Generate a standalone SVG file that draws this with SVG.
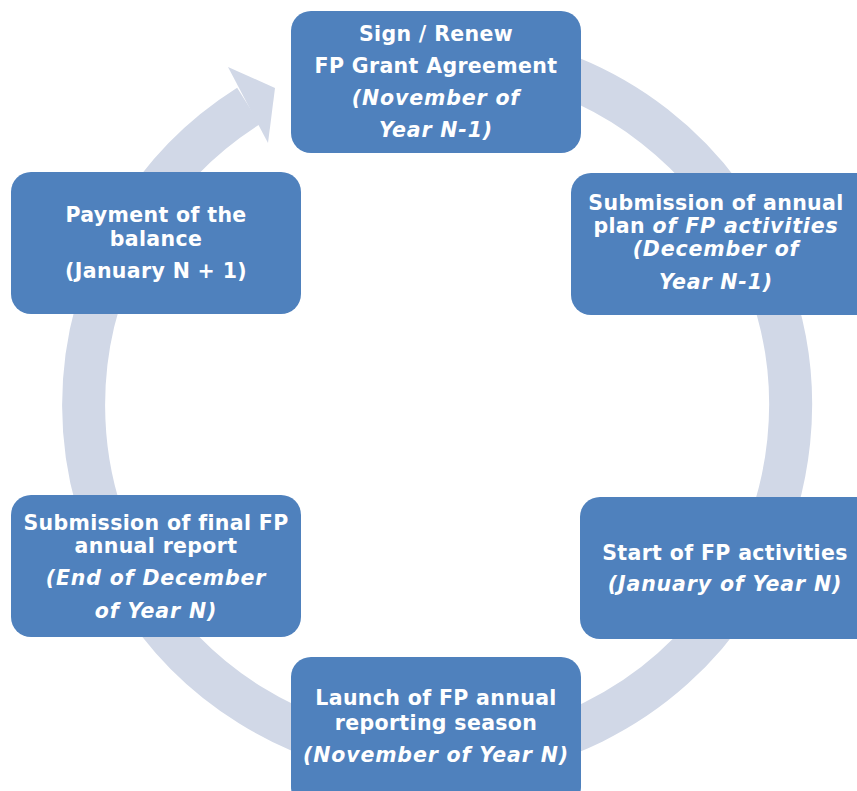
<svg xmlns="http://www.w3.org/2000/svg" width="857" height="791" viewBox="0 0 857 791">
<style>
.ring{fill:none;stroke:#d1d8e7;stroke-width:43}
.head{fill:#d1d8e7}
.box{fill:#4f81bd}
text{font-family:"DejaVu Sans","Verdana",sans-serif;font-weight:bold;font-size:20.5px;letter-spacing:0.35px;fill:#ffffff;text-anchor:middle}
.i{font-style:italic;letter-spacing:0.85px}
</style>
<rect width="857" height="791" fill="#ffffff"/>
<g id="connectors">
<path class="ring" d="M316.1,72.8 A353.5,353.5 0 1 1 248.6,105.9"/>
<polygon class="head" points="228,67 275,88 268,143"/>
</g>
<g id="n1">
<rect class="box" x="291" y="11" width="290" height="142" rx="20"/>
<text x="436" y="41">Sign / Renew</text>
<text x="436" y="73">FP Grant Agreement</text>
<text x="436" y="105" class="i">(November of</text>
<text x="436" y="137" class="i">Year N-1)</text>
</g>
<g id="n2">
<rect class="box" x="571" y="173" width="310" height="142" rx="20"/>
<text x="716" y="210">Submission of annual</text>
<text x="716" y="233">plan <tspan class="i">of FP activities</tspan></text>
<text x="716" y="256" class="i">(December of</text>
<text x="716" y="289" class="i">Year N-1)</text>
</g>
<g id="n3">
<rect class="box" x="580" y="497" width="300" height="142" rx="20"/>
<text x="725" y="560">Start of FP activities</text>
<text x="725" y="591" class="i">(January of Year N)</text>
</g>
<g id="n4">
<rect class="box" x="291" y="657" width="290" height="150" rx="20"/>
<text x="436" y="705">Launch of FP annual</text>
<text x="436" y="730">reporting season</text>
<text x="436" y="762" class="i">(November of Year N)</text>
</g>
<g id="n5">
<rect class="box" x="11" y="495" width="290" height="142" rx="20"/>
<text x="156" y="530">Submission of final FP</text>
<text x="156" y="553">annual report</text>
<text x="156" y="585" class="i">(End of December</text>
<text x="156" y="618" class="i">of Year N)</text>
</g>
<g id="n6">
<rect class="box" x="11" y="172" width="290" height="142" rx="20"/>
<text x="156" y="222">Payment of the</text>
<text x="156" y="246">balance</text>
<text x="156" y="278">(January N + 1)</text>
</g>
</svg>
